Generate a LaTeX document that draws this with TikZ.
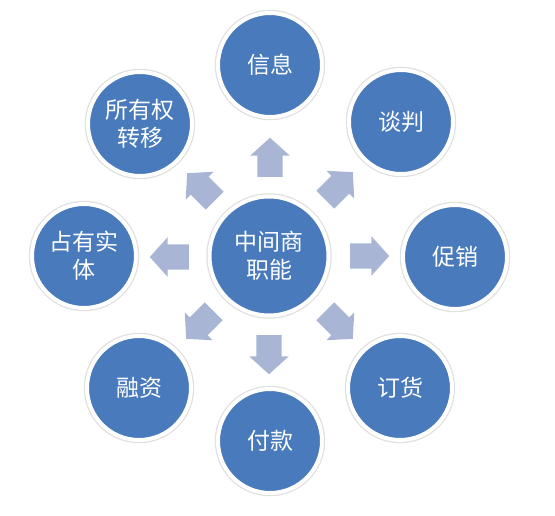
\documentclass[tikz,border=0pt]{standalone}
\usepackage{fontspec}
\newfontfamily\cjk{Noto Sans CJK SC}
\usetikzlibrary{shapes.arrows}
\definecolor{circblue}{RGB}{72,122,188}
\definecolor{arrowgray}{RGB}{168,181,212}
\tikzset{
  x=1pt, y=1pt,
  bubble/.style={circle, fill=circblue, draw=white, line width=4pt,
    preaction={draw=black!12, line width=6.5pt},
    minimum size=104pt, inner sep=0pt, text=white, align=center,
    font=\cjk\fontsize{23pt}{28pt}\selectfont},
  hub/.style={bubble, minimum size=119pt},
  blockarrow/.style={single arrow, fill=arrowgray, draw=none,
    minimum height=39pt, single arrow head extend=7pt,
    single arrow tip angle=96, inner sep=0pt}
}
\newcommand{\abody}{\rule{0pt}{25pt}}
\begin{document}
\begin{tikzpicture}
\useasboundingbox (0,0) rectangle (555,515);
\node[hub] (c) at (269,259) {中间商\\职能};
\node[bubble] (xx) at (270,450) {信息};
\node[bubble] (tp) at (401,393) {谈判};
\node[bubble] (cx) at (455,258) {促销};
\node[bubble] (dh) at (400,127) {订货};
\node[bubble] (fk) at (270,74) {付款};
\node[bubble] (rz) at (139,127) {融资};
\node[bubble] (zy) at (84,259) {占有实\\体};
\node[bubble] (sy) at (140,391) {所有权\\转移};
\node[blockarrow, rotate=90] (a1) at (270,352) {\abody};
\node[blockarrow, rotate=45] (a2) at (335,325) {\abody};
\node[blockarrow, rotate=0] (a3) at (364,259) {\abody};
\node[blockarrow, rotate=-45] (a4) at (335,194) {\abody};
\node[blockarrow, rotate=-90] (a5) at (269,166) {\abody};
\node[blockarrow, rotate=-135] (a6) at (204,194) {\abody};
\node[blockarrow, rotate=180] (a7) at (175,258) {\abody};
\node[blockarrow, rotate=135] (a8) at (205,324) {\abody};
\end{tikzpicture}
\end{document}
